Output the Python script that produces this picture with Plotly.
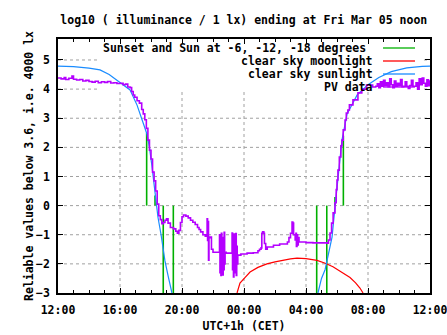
import plotly.graph_objects as go

# ---------------- data ----------------
# time in hours since midnight of the first day (12 = 12:00, 36 = 12:00 next day)
pv_t = [12.0, 12.2, 12.4, 12.5, 12.7, 12.9, 13.0, 13.2, 13.4, 13.6, 13.8, 14.0, 14.2, 14.4, 14.6,
        14.8, 15.0, 15.2, 15.4, 15.6, 15.8, 16.0, 16.2, 16.35, 16.5, 16.65, 16.75, 16.85, 16.95,
        17.1, 17.25, 17.4, 17.5, 17.6, 17.7, 17.8, 17.9, 18.0, 18.1, 18.2, 18.3, 18.4, 18.5, 18.6,
        18.7, 18.8, 18.9, 19.0, 19.1, 19.25, 19.45, 19.6, 19.7, 19.8, 19.9, 20.0, 20.1, 20.25, 20.4,
        20.55, 20.7, 20.85, 21.0, 21.1, 21.2, 21.35, 21.5, 21.6, 21.62, 21.65, 21.68, 21.71, 21.74,
        21.8, 21.9, 22.0, 22.3, 22.42, 22.45, 22.48, 22.51, 22.54, 22.57, 22.6, 22.63, 22.66, 22.69,
        22.72, 22.75, 22.78, 22.85, 23.2, 23.23, 23.26, 23.29, 23.32, 23.35, 23.38, 23.41, 23.44,
        23.47, 23.5, 23.53, 23.56, 23.6, 23.8, 24.2, 24.6, 24.9, 25.0, 25.1, 25.15, 25.2, 25.28,
        25.32, 25.4, 25.5, 25.9, 26.3, 26.8, 26.9, 27.0, 27.1, 27.15, 27.2, 27.3, 27.35, 27.38,
        27.42, 27.46, 27.5, 27.55, 27.6, 28.0, 28.45, 28.7, 29.35, 29.45, 29.55, 29.65, 29.75,
        29.87, 29.95, 30.0, 30.06, 30.15, 30.25, 30.32, 30.4, 30.52, 30.6, 30.7, 30.8, 31.03, 31.35,
        31.6, 31.9, 32.3, 32.5, 32.6, 32.7, 32.8, 32.9, 33.0, 33.1, 33.2, 33.3, 33.4, 33.5, 33.6,
        33.7, 33.8, 33.9, 34.0, 34.1, 34.2, 34.3, 34.4, 34.5, 34.6, 34.7, 34.8, 34.9, 35.0, 35.1,
        35.2, 35.3, 35.4, 35.5, 35.6, 35.7, 35.8, 35.9, 36.0]
pv_v = [4.38, 4.35, 4.40, 4.33, 4.37, 4.45, 4.34, 4.31, 4.33, 4.28, 4.30, 4.26, 4.24, 4.27, 4.22,
        4.25, 4.23, 4.26, 4.21, 4.22, 4.19, 4.20, 4.15, 4.17, 4.07, 4.05, 3.92, 3.80, 3.72,
        3.60, 3.52, 3.30, 3.15, 2.95, 2.65, 2.25, 1.90, 1.60, 1.15, 0.85, 0.50, 0.05, -0.35, -0.48,
        -0.62, -0.58, -0.50, -0.45, -0.60, -0.75, -0.80, -0.88, -0.95, -0.85, -0.58, -0.38, -0.32, -0.36, -0.42,
        -0.50, -0.57, -0.65, -0.75, -0.82, -0.90, -1.00, -1.05, -1.00, -0.45, -1.20, -0.55, -1.87, -1.10,
        -1.08, -1.50, -1.60, -1.60, -1.00, -2.30, -1.20, -2.40, -0.95, -2.10, -1.10, -2.38, -1.30, -2.20,
        -0.92, -2.00, -1.60, -1.63, -1.63, -0.94, -2.20, -1.10, -2.45, -0.98, -2.30, -1.20, -2.10,
        -0.96, -2.40, -1.40, -2.00, -1.70, -1.66, -1.63, -1.62, -1.55, -1.50, -1.45, -0.95, -0.90, -0.95,
        -1.30, -1.50, -1.42, -1.36, -1.32, -1.25, -1.10, -0.95, -0.56, -0.60, -1.00, -1.18, -0.95, -1.40,
        -1.00, -1.35, -1.10, -1.25, -1.25, -1.27, -1.28, -1.28, -1.29, -1.18, -0.94, -0.60, -0.25,
        0.10, 0.55, 0.88, 1.22, 1.67, 2.05, 2.25, 2.60, 2.94, 3.18, 3.28, 3.46, 3.63, 3.87,
        4.00, 4.14, 4.07, 4.10, 4.18, 4.05, 4.25, 4.10, 4.30, 4.12, 4.22, 4.08, 4.35, 4.15, 4.05,
        4.28, 4.10, 4.20, 4.12, 4.33, 4.08, 4.10, 4.25, 4.10, 4.02, 4.12, 4.30, 4.10, 4.10, 4.22,
        4.00, 4.35, 4.15, 4.38, 4.20, 4.10, 4.32, 4.12, 4.30]

sun_t = [12.0, 13.0, 14.0, 14.71, 15.3, 15.81, 16.2, 16.65, 17.1, 17.35, 17.55, 17.74, 17.9,
         18.05, 18.2, 18.35, 18.45, 18.65, 18.9, 19.1, 19.35, None,
         28.77, 29.0, 29.23, 29.42, 29.68, 29.87, 30.1, 30.32, 30.65, 31.3, 32.0, 32.7, 33.5,
         34.5, 35.5, 36.0]
sun_v = [4.79, 4.77, 4.72, 4.66, 4.50, 4.31, 4.15, 3.97, 3.45, 3.10, 2.75, 2.45, 2.00,
         1.40, 0.70, 0.00, -0.40, -1.00, -1.90, -2.40, -3.00, None,
         -3.00, -2.50, -2.20, -1.76, -1.08, -0.05, 1.20, 2.25, 3.15, 3.80, 4.15, 4.40, 4.60,
         4.73, 4.78, 4.79]

moon_t = [23.55, 23.74, 24.06, 24.39, 24.9, 25.48, 26.0, 26.52, 27.0, 27.42, 28.0, 28.71,
          29.2, 29.74, 30.3, 30.84, 31.2, 31.48, 31.68]
moon_v = [-3.00, -2.66, -2.47, -2.28, -2.12, -2.00, -1.93, -1.87, -1.83, -1.80, -1.82, -1.88,
          -1.97, -2.10, -2.28, -2.47, -2.65, -2.83, -3.00]

# sunset / sunrise and sun at -6, -12, -18 degrees (impulses from 0)
event_t = [17.72, 18.26, 18.79, 19.44, 28.69, 29.34, 29.87, 30.41]
event_v = [2.50, 0.35, -3.0, -3.0, -3.0, -3.0, 0.30, 2.40]

x_tickvals = [12, 16, 20, 24, 28, 32, 36]
x_ticktext = ["12:00", "16:00", "20:00", "00:00", "04:00", "08:00", "12:00"]
y_tickvals = [-3, -2, -1, 0, 1, 2, 3, 4, 5]

legend_labels = ["Sunset and Sun at -6, -12, -18 degrees", "clear sky moonlight",
                 "clear sky sunlight", "PV data"]

# ---------------- style ----------------
C_GREEN = "#00b000"
C_RED = "#ff0000"
C_BLUE = "#1a8cff"
C_PURPLE = "#b400ff"
FONT = "DejaVu Sans Mono"
FS = 11.5

X0, X1 = 12, 36
Y0, Y1 = -3, 5.72

fig = go.Figure()

# green impulses
gx, gy = [], []
for t, v in zip(event_t, event_v):
    gx += [t, t, None]
    gy += [0, v, None]
fig.add_trace(go.Scatter(x=gx, y=gy, mode="lines", line=dict(color=C_GREEN, width=1.6),
                         hoverinfo="skip"))
fig.add_trace(go.Scatter(x=moon_t, y=moon_v, mode="lines", line=dict(color=C_RED, width=1.2)))
fig.add_trace(go.Scatter(x=sun_t, y=sun_v, mode="lines", line=dict(color=C_BLUE, width=1.2),
                         connectgaps=False))
fig.add_trace(go.Scatter(x=pv_t, y=pv_v, mode="lines", line=dict(color=C_PURPLE, width=1.6,
                                                                  shape="hv")))

# grid (hidden under key box area like gnuplot)
key_left = 14.71
key_right = 35.61
key_bottom = 3.90
grid_style = dict(color="#a0a0a0", width=1, dash="3px,3px")
shapes = []
for yv in y_tickvals[1:]:
    if yv > key_bottom:
        shapes.append(dict(type="line", xref="x", yref="y", x0=X0, x1=key_left, y0=yv, y1=yv,
                           line=grid_style, layer="below"))
        shapes.append(dict(type="line", xref="x", yref="y", x0=key_right, x1=X1, y0=yv, y1=yv,
                           line=grid_style, layer="below"))
    else:
        shapes.append(dict(type="line", xref="x", yref="y", x0=X0, x1=X1, y0=yv, y1=yv,
                           line=grid_style, layer="below"))
for xv in x_tickvals[1:-1]:
    shapes.append(dict(type="line", xref="x", yref="y", x0=xv, x1=xv, y0=Y0, y1=key_bottom,
                       line=grid_style, layer="below"))

# manual key (text right-justified, sample to the right)
PX_L, PX_W, PX_B, PX_H = 58, 372, 293, 254
def px2paper(px, py):
    return (px - PX_L) / PX_W, (PX_B - py) / PX_H

key_rows_py = [48, 61, 74, 87]
key_text_right = [368, 375, 375, 375]
key_colors = [C_GREEN, C_RED, C_BLUE, C_PURPLE]
annotations = []
for lab, py, tr, col in zip(legend_labels, key_rows_py, key_text_right, key_colors):
    xa, ya = px2paper(tr, py)
    annotations.append(dict(text=lab, x=xa, y=ya, xref="paper", yref="paper", xanchor="right",
                            yanchor="middle", showarrow=False,
                            font=dict(family=FONT, size=FS, color="black", weight="bold")))
    xs0, ys = px2paper(383, py)
    xs1, _ = px2paper(415, py)
    shapes.append(dict(type="line", xref="paper", yref="paper", x0=xs0, x1=xs1, y0=ys, y1=ys,
                       line=dict(color=col, width=1.3)))

fig.update_layout(
    width=447, height=335,
    margin=dict(l=58, r=17, t=39, b=42),
    paper_bgcolor="white", plot_bgcolor="white",
    showlegend=False,
    font=dict(family=FONT, size=FS, color="black", weight="bold"),
    title=dict(text="log10 ( illuminance / 1 lx) ending at Fri Mar 05 noon",
               x=0.5454, xanchor="center", y=1 - 20 / 335, yanchor="middle",
               font=dict(family=FONT, size=FS, weight="bold")),
    shapes=shapes,
    annotations=annotations,
)
fig.update_xaxes(range=[X0, X1], tickvals=x_tickvals, ticktext=x_ticktext,
                 ticks="inside", ticklen=5, tickwidth=1, tickcolor="black",
                 ticklabelstandoff=5, ticklabeloverflow="allow", automargin=False,
                 showline=True, linecolor="black", linewidth=1.5, mirror="allticks",
                 showgrid=False, zeroline=False,
                 minor=dict(dtick=1, tick0=12, ticks="inside", ticklen=3, tickcolor="black",
                            showgrid=False),
                 title=dict(text="UTC+1h (CET)", standoff=6,
                            font=dict(family=FONT, size=FS, weight="bold")))
fig.update_yaxes(range=[Y0, Y1], tickvals=y_tickvals,
                 ticks="inside", ticklen=5, tickwidth=1, tickcolor="black",
                 ticklabelstandoff=4, automargin=False,
                 showline=True, linecolor="black", linewidth=1.5, mirror="allticks",
                 showgrid=False, zeroline=False,
                 title=dict(text="Reliable values below 3.6, i.e. 4000 lx", standoff=0,
                            font=dict(family=FONT, size=FS, weight="bold")))

fig.write_html("out.html")
